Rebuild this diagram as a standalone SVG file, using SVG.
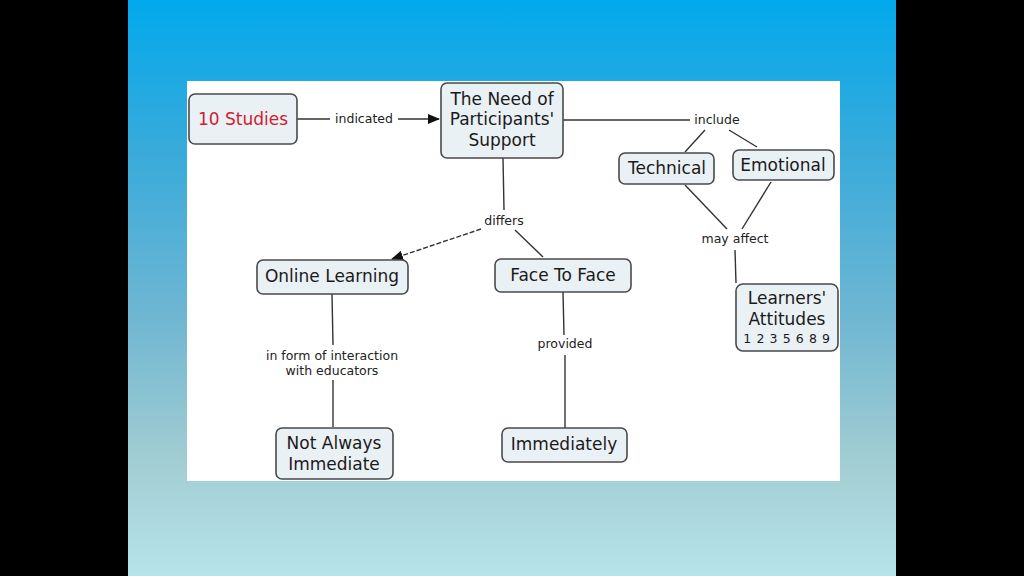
<svg xmlns="http://www.w3.org/2000/svg" width="1024" height="576" viewBox="0 0 1024 576">
<defs>
<linearGradient id="bg" x1="0" y1="0" x2="0" y2="1">
<stop offset="0" stop-color="#02a9ec"/>
<stop offset="0.25" stop-color="#36aadb"/>
<stop offset="0.55" stop-color="#6fb6d2"/>
<stop offset="0.8" stop-color="#a2cdd2"/>
<stop offset="1" stop-color="#b6e2ea"/>
</linearGradient>
<marker id="arr" markerWidth="12" markerHeight="10" refX="11" refY="5" orient="auto" markerUnits="userSpaceOnUse">
<path d="M0,0 L12,5 L0,10 Z" fill="#111"/>
</marker>
<style>
.node rect{fill:#eaf1f5;stroke:#4a4a4a;stroke-width:1.6}
.node text{font-family:"DejaVu Sans",Verdana,sans-serif;font-size:17px;fill:#1a1a1a;text-anchor:middle}
.lbl{font-family:"DejaVu Sans",Verdana,sans-serif;font-size:12.5px;fill:#222;text-anchor:middle}
.ln{stroke:#333;stroke-width:1.4;fill:none}
</style>
</defs>
<rect x="0" y="0" width="1024" height="576" fill="#000"/>
<rect x="128" y="0" width="768" height="576" fill="url(#bg)"/>
<rect x="187" y="81" width="653" height="400" fill="#ffffff"/>

<g id="connectors">
<line class="ln" x1="297" y1="119" x2="330" y2="119"/>
<text class="lbl" x="364" y="123">indicated</text>
<line class="ln" x1="398" y1="119" x2="439" y2="119" marker-end="url(#arr)"/>
<line class="ln" x1="563" y1="120" x2="690" y2="120"/>
<text class="lbl" x="717" y="124">include</text>
<line class="ln" x1="705" y1="130" x2="685" y2="152"/>
<line class="ln" x1="729" y1="130" x2="757" y2="147"/>
<line class="ln" x1="503" y1="158" x2="504" y2="210"/>
<text class="lbl" x="504" y="225">differs</text>
<line class="ln" x1="481" y1="229" x2="392" y2="259" stroke-dasharray="5,2" marker-end="url(#arr)"/>
<line class="ln" x1="515" y1="230" x2="543" y2="257"/>
<line class="ln" x1="685" y1="185" x2="727" y2="229"/>
<line class="ln" x1="771" y1="182" x2="742" y2="229"/>
<text class="lbl" x="735" y="243">may affect</text>
<line class="ln" x1="735" y1="250" x2="736" y2="283"/>
<line class="ln" x1="332" y1="294" x2="333" y2="345"/>
<text class="lbl" x="332" y="360">in form of interaction</text>
<text class="lbl" x="332" y="375">with educators</text>
<line class="ln" x1="333" y1="380" x2="333" y2="427"/>
<line class="ln" x1="563" y1="292" x2="564" y2="335"/>
<text class="lbl" x="565" y="348">provided</text>
<line class="ln" x1="565" y1="355" x2="565" y2="428"/>
</g>

<g id="n-studies" class="node">
<rect x="189" y="94" width="108" height="50" rx="6"/>
<text x="243" y="125" style="fill:#d0202e">10 Studies</text>
</g>
<g id="n-need" class="node">
<rect x="441" y="83" width="122" height="75" rx="6"/>
<text x="502" y="105">The Need of</text>
<text x="502" y="125">Participants'</text>
<text x="502" y="146">Support</text>
</g>
<g id="n-technical" class="node">
<rect x="619" y="153" width="95" height="31" rx="6"/>
<text x="667" y="174">Technical</text>
</g>
<g id="n-emotional" class="node">
<rect x="733" y="150" width="101" height="30" rx="6"/>
<text x="783" y="171">Emotional</text>
</g>
<g id="n-online" class="node">
<rect x="257" y="260" width="151" height="34" rx="6"/>
<text x="332" y="282">Online Learning</text>
</g>
<g id="n-face" class="node">
<rect x="495" y="259" width="136" height="33" rx="6"/>
<text x="563" y="281">Face To Face</text>
</g>
<g id="n-learners" class="node">
<rect x="736" y="284" width="102" height="67" rx="7"/>
<text x="787" y="304">Learners'</text>
<text x="787" y="325">Attitudes</text>
<text x="787" y="343" style="font-size:12.5px;letter-spacing:0.6px">1 2 3 5 6 8 9</text>
</g>
<g id="n-notalways" class="node">
<rect x="276" y="428" width="117" height="51" rx="6"/>
<text x="334" y="449">Not Always</text>
<text x="334" y="470">Immediate</text>
</g>
<g id="n-immediately" class="node">
<rect x="502" y="428" width="125" height="34" rx="6"/>
<text x="564" y="450">Immediately</text>
</g>
</svg>
